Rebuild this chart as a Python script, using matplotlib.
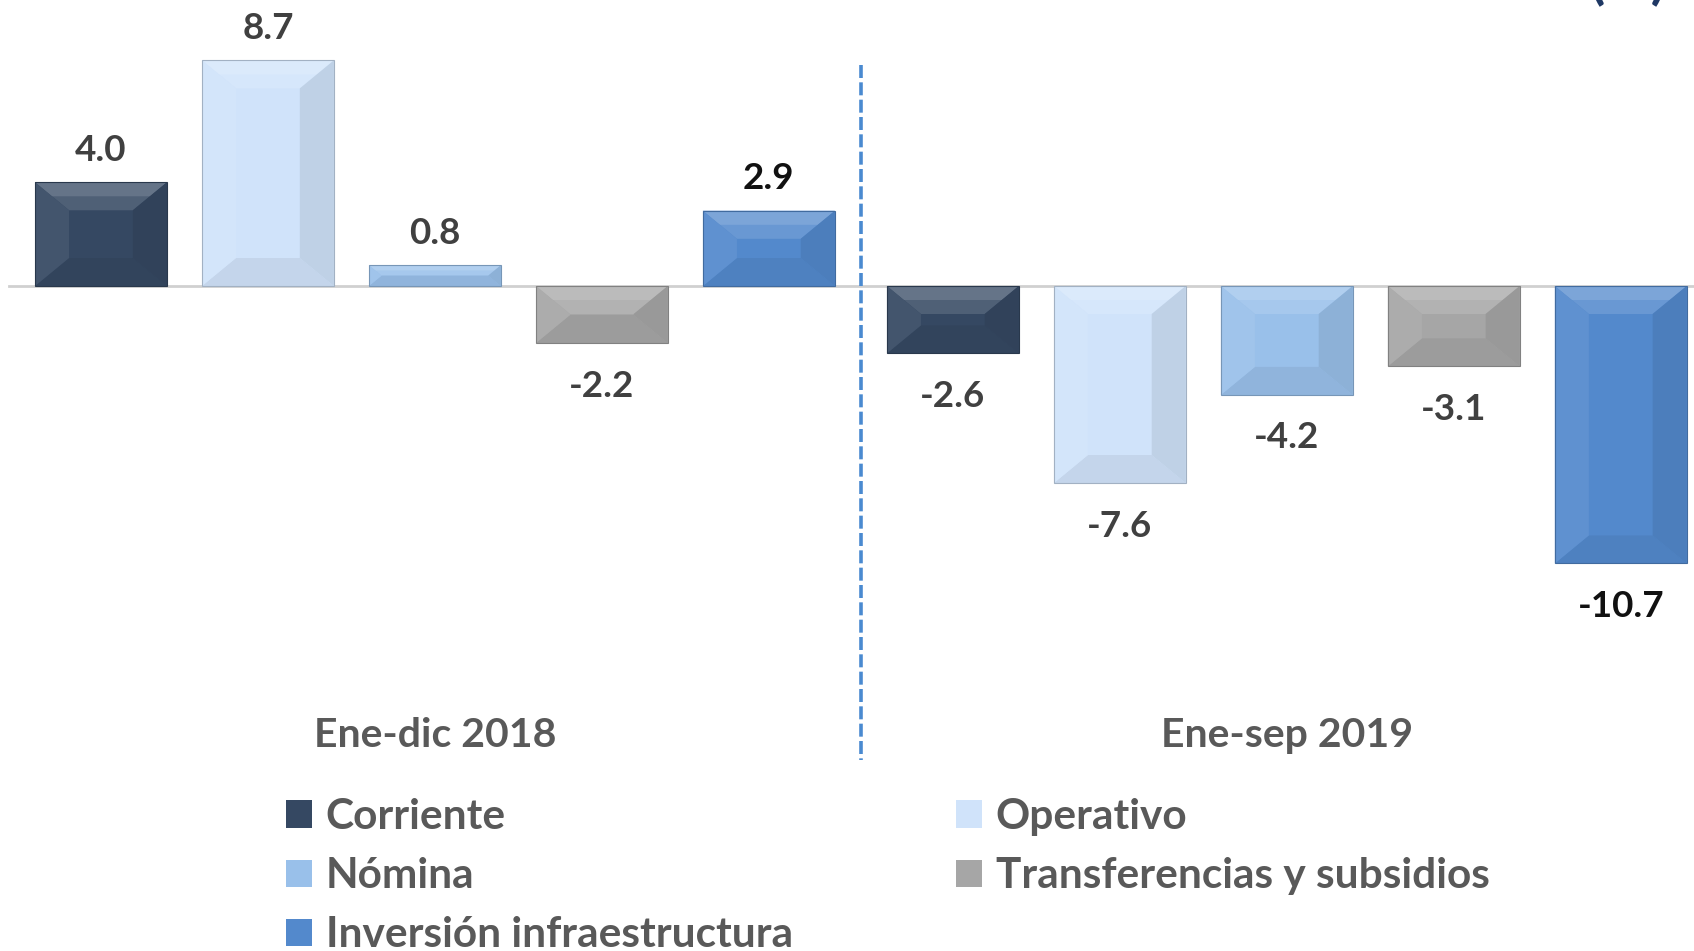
import matplotlib
matplotlib.use("Agg")
import matplotlib.pyplot as plt
import matplotlib.colors as mcolors
from matplotlib.patches import Polygon
import numpy as np

plt.rcParams['font.family'] = ['Lato', 'DejaVu Sans']

periods = ['Ene-dic 2018', 'Ene-sep 2019']
series = ['Corriente', 'Operativo', 'Nómina', 'Transferencias y subsidios', 'Inversión infraestructura']
corriente = [4.0, -2.6]
operativo = [8.7, -7.6]
nomina = [0.8, -4.2]
transferencias = [-2.2, -3.1]
inversion = [2.9, -10.7]
values = [corriente, operativo, nomina, transferencias, inversion]

colors = ['#354862', '#d0e3fa', '#99c0ea', '#a6a6a6', '#5389cc']
label_colors = [['#404040', '#404040'], ['#404040', '#404040'], ['#404040', '#404040'],
                ['#404040', '#404040'], ['#111111', '#111111']]

W, H = 1694, 951
PX_X = 851.9   # pixels per x unit
PX_Y = 25.93   # pixels per y unit


def mix(c, other, t):
    a = np.array(mcolors.to_rgb(c))
    b = np.array(mcolors.to_rgb(other))
    return tuple(a * (1 - t) + b * t)


def trap(ax, pts, c):
    ax.add_patch(Polygon(pts, closed=True, facecolor=c, edgecolor='none', zorder=3))


def bevel(ax, patch, base):
    x0 = patch.get_x()
    w = patch.get_width()
    y0 = patch.get_y()
    h = patch.get_height()
    yb, yt = min(y0, y0 + h), max(y0, y0 + h)
    x1 = x0 + w
    bx = 34 / PX_X
    by = 28 / PX_Y
    r = min(1.0, (yt - yb) / 2 / by, w / 2 / bx)
    bx *= r
    by *= r
    hx, hy = bx / 2, by / 2
    # top face in two steps to fake a gradient
    trap(ax, [(x0, yt), (x1, yt), (x1 - bx, yt - by), (x0 + bx, yt - by)], mix(base, 'white', 0.13))
    trap(ax, [(x0, yt), (x1, yt), (x1 - hx, yt - hy), (x0 + hx, yt - hy)], mix(base, 'white', 0.24))
    trap(ax, [(x0, yb), (x1, yb), (x1 - bx, yb + by), (x0 + bx, yb + by)], mix(base, 'black', 0.06))
    trap(ax, [(x0, yb), (x0, yt), (x0 + bx, yt - by), (x0 + bx, yb + by)], mix(base, 'white', 0.07))
    trap(ax, [(x1, yb), (x1, yt), (x1 - bx, yt - by), (x1 - bx, yb + by)], mix(base, 'black', 0.08))
    ax.add_patch(Polygon([(x0, yb), (x1, yb), (x1, yt), (x0, yt)], closed=True,
                         facecolor='none', edgecolor=mix(base, 'black', 0.22), lw=0.8, zorder=4))


fig = plt.figure(figsize=(W / 100, H / 100), dpi=100)
ax = fig.add_axes([0, 0, 1, 1])
ax.axis('off')
ax.set_xlim(-434.9 / PX_X, (W - 434.9) / PX_X)
ax.set_ylim(-(H - 286) / PX_Y, 286 / PX_Y)

x = np.arange(len(periods))
pitch = 0.196
width = 0.1547

ax.plot([-0.5, 1.6], [0, 0], color='#d0d0d0', lw=2, zorder=1)

containers = []
for i, (name, vals, col) in enumerate(zip(series, values, colors)):
    pos = x + (i - 2) * pitch
    bars = ax.bar(pos, vals, width, color=col, label=name, zorder=2)
    containers.append(bars)
    for j, p in enumerate(bars.patches):
        bevel(ax, p, col)
        v = vals[j]
        ax.annotate(f'{v:.1f}', xy=(pos[j], v), xytext=(0, 23 if v >= 0 else -31),
                    textcoords='offset points', ha='center', va='center',
                    fontsize=26.5, fontweight='bold', color=label_colors[i][j])

# separator between periods
ax.plot([0.5, 0.5], [8.52, -18.28], color='#4a8ad0', lw=2.6, ls=(0, (3.6, 1.2)), zorder=1)

for xi, p in zip(x, periods):
    ax.text(xi, -17.35, p, ha='center', va='center', fontsize=29.5,
            fontweight='bold', color='#595959')

prop = {'weight': 'bold', 'size': 30.5}
leg_kw = dict(frameon=False, prop=prop, labelcolor='#595959', handlelength=0.61,
              handleheight=0.61, handletextpad=0.33, labelspacing=0.5, borderpad=0,
              borderaxespad=0, loc='upper left', bbox_transform=fig.transFigure)
leg1 = ax.legend([containers[0], containers[2], containers[4]],
                 [series[0], series[2], series[4]],
                 bbox_to_anchor=(286 / W, 1 - 798 / H), **leg_kw)
ax.add_artist(leg1)
ax.legend([containers[1], containers[3]], [series[1], series[3]],
          bbox_to_anchor=(956 / W, 1 - 798 / H), **leg_kw)

# unit note, mostly above the top edge as in the source slide
fig.text(1628 / W, 1 + 2 / H, '(%)', ha='center', va='baseline', fontsize=40,
         fontweight='bold', color='#1f3864')

fig.savefig('out.png', dpi=100)
